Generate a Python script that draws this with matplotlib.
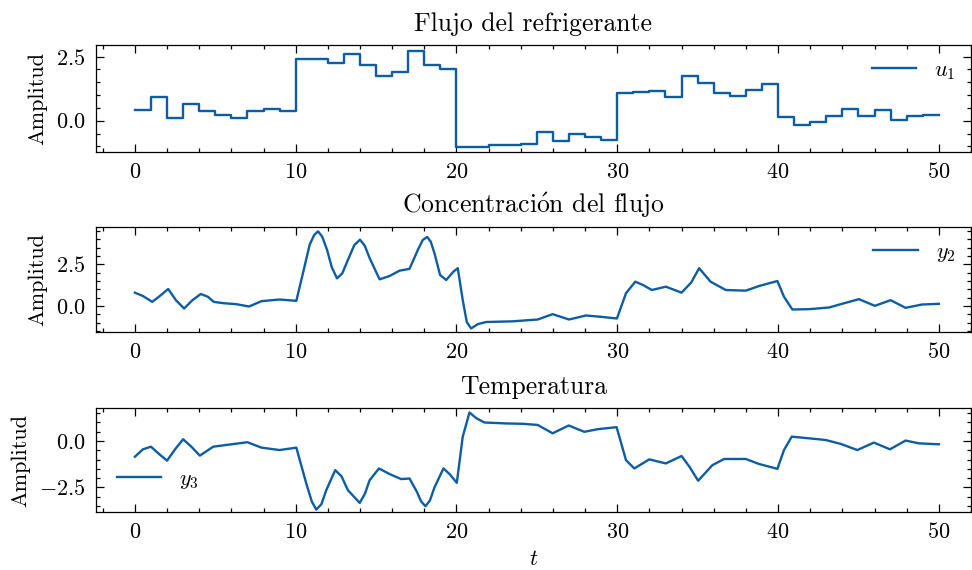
import matplotlib.pyplot as plt
from matplotlib.ticker import MultipleLocator, AutoMinorLocator

# Entrada: flujo del refrigerante (escalones de 1 unidad de tiempo)
t_u = list(range(51))
u1 = [0.42, 0.92, 0.12, 0.66, 0.39, 0.23, 0.09, 0.36, 0.47, 0.39,
      2.40, 2.40, 2.24, 2.59, 2.17, 1.75, 1.89, 2.72, 2.18, 2.03,
      -1.04, -1.01, -0.96, -0.96, -0.89, -0.45, -0.80, -0.52, -0.65, -0.74,
      1.08, 1.12, 1.17, 0.91, 1.76, 1.47, 1.08, 0.97, 1.18, 1.43,
      0.13, -0.16, -0.05, 0.17, 0.47, 0.17, 0.40, 0.04, 0.17, 0.21, 0.21]

# Salida: concentración del flujo
t_y2 = [0.0, 0.5, 1.08, 1.55, 2.07, 2.55, 3.06, 3.58, 4.1, 4.55, 4.9, 5.5,
        6.3, 7.1, 7.87, 9.0, 10.04, 10.45, 10.87, 11.15, 11.39, 11.65, 11.95,
        12.25, 12.57, 12.9, 13.25, 13.65, 14.0, 14.3, 14.6, 15.22, 15.84,
        16.46, 17.08, 17.6, 17.9, 18.18, 18.4, 18.63, 18.98, 19.36, 19.81,
        20.08, 20.39, 20.64, 20.91, 21.32, 21.84, 23.5, 25.05, 25.98, 27.0,
        28.05, 29.0, 29.98, 30.54, 31.12, 31.6, 32.15, 33.02, 34.0, 34.6,
        35.09, 35.8, 36.75, 37.99, 38.82, 39.96, 40.37, 40.89, 41.93, 43.17,
        43.9, 45.03, 46.02, 47.0, 47.93, 48.96, 50.0]
y2 = [0.79, 0.59, 0.24, 0.59, 1.01, 0.34, -0.16, 0.34, 0.71, 0.54, 0.24, 0.16,
      0.10, -0.04, 0.28, 0.38, 0.30, 1.95, 3.67, 4.25, 4.47, 4.15, 3.36,
      2.30, 1.65, 1.95, 2.76, 3.65, 3.97, 3.60, 2.86, 1.59, 1.79,
      2.11, 2.22, 3.36, 3.95, 4.13, 3.85, 3.16, 1.85, 1.55, 2.05,
      2.26, 0.34, -0.97, -1.36, -1.10, -0.97, -0.93, -0.82, -0.50, -0.82,
      -0.58, -0.66, -0.76, 0.75, 1.45, 1.25, 0.95, 1.15, 0.79, 1.40,
      2.26, 1.45, 0.95, 0.91, 1.19, 1.49, 0.54, -0.22, -0.20, -0.10,
      0.10, 0.40, 0.00, 0.34, -0.12, 0.08, 0.12]

# Salida: temperatura
t_y3 = [0.0, 0.5, 1.0, 1.5, 2.0, 2.5, 3.0, 3.5, 4.04, 4.87, 6.0, 7.0, 7.87,
        9.0, 10.04, 10.66, 11.0, 11.28, 11.6, 11.9, 12.46, 12.85, 13.25, 13.98,
        14.3, 14.6, 15.18, 15.84, 16.56, 17.08, 17.54, 17.8, 18.07, 18.35,
        18.63, 19.19, 19.57, 20.02, 20.39, 20.81, 21.22, 21.74, 23.09, 24.12,
        25.05, 25.98, 26.98, 27.95, 28.78, 29.96, 30.54, 31.06, 31.99, 33.02,
        34.0, 34.5, 35.03, 35.92, 36.65, 37.99, 38.82, 39.96, 40.37, 40.85,
        41.93, 42.96, 43.9, 44.93, 45.96, 46.96, 47.93, 48.76, 50.0]
y3 = [-0.85, -0.45, -0.31, -0.70, -1.06, -0.45, 0.09, -0.30, -0.79, -0.31,
      -0.18, -0.07, -0.36, -0.49, -0.36, -2.29, -3.25, -3.69, -3.40, -2.65,
      -1.57, -1.90, -2.65, -3.33, -2.85, -2.11, -1.48, -1.78, -2.05, -2.02,
      -2.74, -3.25, -3.51, -3.20, -2.50, -1.48, -1.78, -2.25, 0.23, 1.53,
      1.23, 0.99, 0.94, 0.92, 0.86, 0.41, 0.83, 0.49, 0.63, 0.74, -1.03,
      -1.48, -0.99, -1.21, -0.81, -1.40, -2.14, -1.30, -0.97, -0.97, -1.24,
      -1.50, -0.49, 0.23, 0.14, 0.05, -0.16, -0.49, -0.09, -0.45, 0.02,
      -0.13, -0.18]

azul = '#0C5DA5'

plt.rcParams.update({
    'font.family': 'cmr10',
    'mathtext.fontset': 'cm',
    'axes.formatter.use_mathtext': True,
    'font.size': 16,
    'axes.titlesize': 18.5,
    'axes.titlepad': 10,
    'axes.labelpad': 6,
    'axes.linewidth': 0.9,
    'xtick.direction': 'in',
    'ytick.direction': 'in',
    'xtick.top': True,
    'ytick.right': True,
    'xtick.major.size': 5.5,
    'ytick.major.size': 5.5,
    'xtick.minor.size': 2.8,
    'ytick.minor.size': 2.8,
    'xtick.major.width': 0.9,
    'ytick.major.width': 0.9,
    'xtick.minor.width': 0.9,
    'ytick.minor.width': 0.9,
    'xtick.major.pad': 7.5,
    'ytick.major.pad': 7.5,
    'xtick.minor.visible': True,
    'ytick.minor.visible': True,
    'legend.frameon': False,
    'legend.handlelength': 2.0,
})

fig = plt.figure(figsize=(9.72, 5.7), dpi=100)
izq, ancho = 95.5 / 972, 875.5 / 972
ax1 = fig.add_axes([izq, 1 - 152 / 570, ancho, 107 / 570])
ax2 = fig.add_axes([izq, 1 - 332 / 570, ancho, 105 / 570])
ax3 = fig.add_axes([izq, 1 - 512 / 570, ancho, 104 / 570])

ax1.plot(t_u, u1, color=azul, lw=1.7, drawstyle='steps-post', label=r'$u_1$')
ax2.plot(t_y2, y2, color=azul, lw=1.7, label=r'$y_2$')
ax3.plot(t_y3, y3, color=azul, lw=1.7, label=r'$y_3$')

ax1.set_title('Flujo del refrigerante')
ax2.set_title(r'Concentraci$\mathrm{\acute{o}}$n del flujo')
ax3.set_title('Temperatura')

ax1.legend(loc='upper right', borderaxespad=0.3)
ax2.legend(loc='upper right', borderaxespad=0.3)
ax3.legend(loc='lower left', borderaxespad=0.55)

for ax in (ax1, ax2, ax3):
    ax.set_xlim(-2.45, 52.0)
    ax.set_ylabel('Amplitud')
    ax.xaxis.set_major_locator(MultipleLocator(10))
    ax.xaxis.set_minor_locator(AutoMinorLocator(5))
    ax.yaxis.set_major_locator(MultipleLocator(2.5))
    ax.yaxis.set_minor_locator(AutoMinorLocator(5))

ax1.set_ylim(-1.22, 2.95)
ax2.set_ylim(-1.57, 4.73)
ax3.set_ylim(-3.82, 1.77)

ax3.set_xlabel(r'$t$', labelpad=5)

fig.savefig('out.png', dpi=100)
